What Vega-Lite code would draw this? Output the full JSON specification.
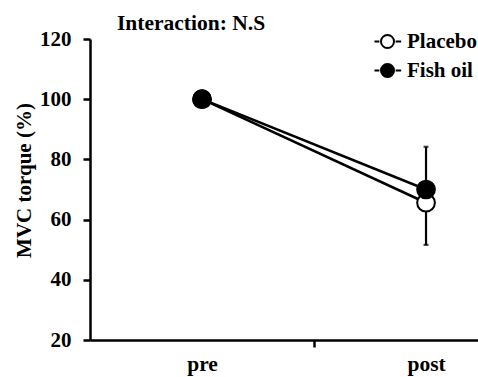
{
  "$schema": "https://vega.github.io/schema/vega-lite/v6.json",
  "autosize": "none",
  "width": 388,
  "height": 301,
  "padding": {"left": 90, "top": 39, "right": 0, "bottom": 37},
  "config": {
    "view": {"stroke": null},
    "font": "Liberation Serif",
    "axis": {"domainColor": "black", "domainWidth": 2.5, "tickColor": "black", "tickWidth": 2.5, "tickSize": 7, "labelColor": "black", "labelFont": "Liberation Serif", "labelFontWeight": "bold", "grid": false, "titleFont": "Liberation Serif", "titleFontWeight": "bold", "titleColor": "black"}
  },
  "title": {"text": "Interaction: N.S", "anchor": "start", "frame": "group", "dx": 27, "offset": -6, "font": "Liberation Serif", "fontSize": 21.5, "fontWeight": "bold", "color": "black"},
  "datasets": {
    "means": [
      {"time": 1, "group": "Placebo", "mvc": 100},
      {"time": 2, "group": "Placebo", "mvc": 65.6},
      {"time": 1, "group": "Fish oil", "mvc": 100},
      {"time": 2, "group": "Fish oil", "mvc": 70}
    ],
    "errs": [
      {"time": 2, "group": "Placebo", "mvc": 65.6, "end": 51.6},
      {"time": 2, "group": "Fish oil", "mvc": 70, "end": 84.2}
    ]
  },
  "encoding": {
    "x": {"field": "time", "type": "quantitative",
      "scale": {"domain": [0.5, 2.232], "nice": false, "zero": false},
      "axis": {"title": null, "values": [1, 1.5, 2], "labelExpr": "datum.value == 1 ? 'pre' : datum.value == 2 ? 'post' : ''", "labelFontSize": 21.5, "labelPadding": 6, "labelFlush": false, "tickOpacity": {"condition": {"test": "datum.value == 1.5", "value": 1}, "value": 0}}}
  },
  "layer": [
    {
      "data": {"name": "means"},
      "mark": {"type": "line", "color": "black", "strokeWidth": 2.5},
      "encoding": {
        "y": {"field": "mvc", "type": "quantitative",
          "scale": {"domain": [20, 120], "nice": false, "zero": false},
          "axis": {"title": "MVC torque (%)", "titleFontSize": 21, "titlePadding": 5, "titleY": 141, "values": [20, 40, 60, 80, 100, 120], "labelFontSize": 21, "labelPadding": 12}},
        "detail": {"field": "group"}
      }
    },
    {
      "data": {"name": "errs"},
      "mark": {"type": "rule", "color": "black", "strokeWidth": 2.2},
      "encoding": {
        "y": {"field": "mvc", "type": "quantitative"},
        "y2": {"field": "end"}
      }
    },
    {
      "data": {"name": "errs"},
      "mark": {"type": "tick", "color": "black", "orient": "horizontal", "size": 5, "thickness": 2.2},
      "encoding": {
        "y": {"field": "end", "type": "quantitative"}
      }
    },
    {
      "data": {"name": "means"},
      "mark": {"type": "point", "filled": true, "shape": "circle", "size": 313, "stroke": "black", "strokeWidth": 2, "opacity": 1},
      "encoding": {
        "y": {"field": "mvc", "type": "quantitative"},
        "fill": {"field": "group", "type": "nominal",
          "scale": {"domain": ["Placebo", "Fish oil"], "range": ["white", "black"]},
          "legend": {"title": null, "orient": "none", "legendX": 287, "legendY": -8, "padding": 0,
            "symbolType": "M -2 0 L -1.25 0 M 1.25 0 L 2.1 0 M 1 0 A 1 1 0 1 1 -1 0 A 1 1 0 1 1 1 0 Z",
            "symbolSize": 169, "symbolStrokeColor": "black", "symbolStrokeWidth": 2, "symbolOpacity": 1,
            "labelFont": "Liberation Serif", "labelFontWeight": "bold", "labelFontSize": 21, "labelColor": "black",
            "labelOffset": 9, "rowPadding": 7}
        }
      }
    }
  ]
}
